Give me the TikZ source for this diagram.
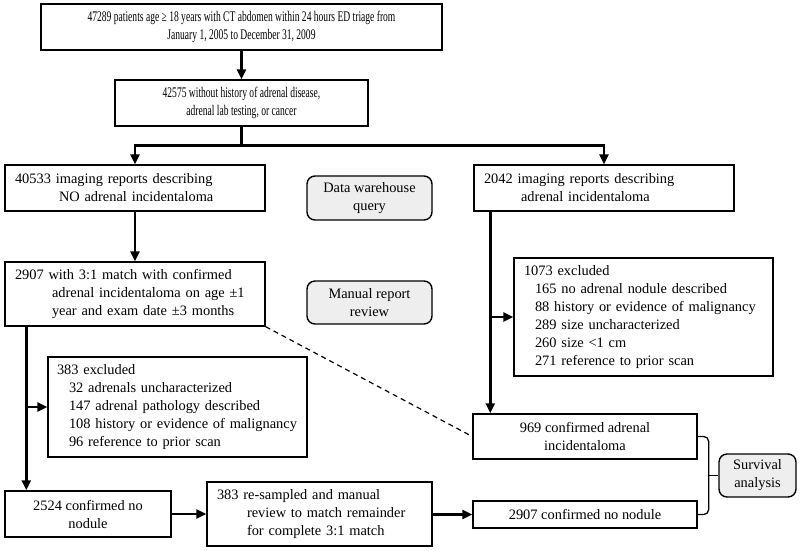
\documentclass[tikz,border=0pt]{standalone}
\usepackage{fontspec}
\setmainfont{Liberation Serif}
\newfontfamily\narrowserif[FakeStretch=0.65]{Liberation Serif}
\usetikzlibrary{arrows.meta}

\definecolor{stagegray}{RGB}{238,238,238}
\newcommand\boxfont{\fontsize{14.4}{18}\selectfont}

\tikzset{
  box/.style={draw, line width=1.4pt, font=\boxfont, align=center,
              inner xsep=10pt, inner ysep=0pt},
  lbox/.style={box, align=left},
  stage/.style={box, rounded corners=8pt, fill=stagegray, inner xsep=4pt},
  flow/.style={line width=2.6pt, -{Triangle[length=10pt,width=9pt]}},
  link/.style={line width=1.2pt, dash pattern=on 5pt off 4pt},
  brace/.style={line width=1.3pt, rounded corners=5pt}
}

\begin{document}
\begin{tikzpicture}[x=1pt, y=-1pt]
\useasboundingbox (0,0) rectangle (800,550);

% query stage
\node[box, minimum width=401pt, minimum height=46pt] (top) at (241.5,27)
  {\narrowserif\fontsize{14.7}{18}\selectfont 47289 patients age ≥ 18 years with CT abdomen within 24 hours ED triage from\\
   \narrowserif\fontsize{14.7}{18}\selectfont January 1, 2005 to December 31, 2009};
\node[box, minimum width=253pt, minimum height=46pt] (clean) at (241.5,103)
  {\narrowserif\fontsize{14.7}{18}\selectfont 42575 without history of adrenal disease,\\
   \narrowserif\fontsize{14.7}{18}\selectfont adrenal lab testing, or cancer};
\node[lbox, text width=240pt, minimum height=46pt] (noai) at (135,188)
  {40533 imaging reports describing\\ \hspace*{44pt}NO adrenal incidentaloma};
\node[lbox, text width=240pt, minimum height=46pt] (ai) at (604,188)
  {2042 imaging reports describing\\ \hspace*{37pt}adrenal incidentaloma};
\node[stage, minimum width=125pt, minimum height=44pt] (dwq) at (369.5,198)
  {Data warehouse\\ query};

% manual review stage
\node[lbox, text width=240pt, minimum height=64pt] (match) at (135,294)
  {2907 with 3:1 match with confirmed\\
   \hspace*{37pt}adrenal incidentaloma on age ±1\\
   \hspace*{37pt}year and exam date ±3 months};
\node[stage, minimum width=125pt, minimum height=43pt] (mrr) at (369.5,302.5)
  {Manual report\\ review};
\node[lbox, text width=239pt, minimum height=118pt] (aiexcl) at (643.5,317)
  {1073 excluded\\
   \hspace*{11pt}165 no adrenal nodule described\\
   \hspace*{11pt}88 history or evidence of malignancy\\
   \hspace*{11pt}289 size uncharacterized\\
   \hspace*{11pt}260 size <1 cm\\
   \hspace*{11pt}271 reference to prior scan};
\node[lbox, inner xsep=9pt, text width=241pt, minimum height=100pt] (noexcl) at (177.5,407)
  {383 excluded\\
   \hspace*{12pt}32 adrenals uncharacterized\\
   \hspace*{12pt}147 adrenal pathology described\\
   \hspace*{12pt}108 history or evidence of malignancy\\
   \hspace*{12pt}96 reference to prior scan};

% final cohorts
\node[box, minimum width=224pt, minimum height=45pt] (cai) at (585,436.5)
  {969 confirmed adrenal\\ incidentaloma};
\node[box, minimum width=166pt, minimum height=46pt] (cno) at (88,514)
  {2524 confirmed no\\ nodule};
\node[lbox, text width=205pt, minimum height=64pt] (resamp) at (319.5,514)
  {383 re-sampled and manual\\
   \hspace*{30pt}review to match remainder\\
   \hspace*{30pt}for complete 3:1 match};
\node[box, minimum width=224pt, minimum height=27pt] (cno2) at (585,514.5)
  {2907 confirmed no nodule};
\node[stage, minimum width=77pt, minimum height=43pt] (surv) at (757.5,475.5)
  {Survival\\ analysis};

% connectors
\draw[flow] (top) -- (clean);
\draw[flow] (clean.south) -- ++(0,19) -| (noai.north);
\draw[flow] (clean.south) -- ++(0,19) -| (ai.north);
\draw[flow] (noai) -- (match);
\draw[flow] ([xshift=22pt]match.south west) -- ([xshift=22pt]cno.north west);
\draw[flow] ([xshift=22pt]match.south west |- noexcl.west) -- (noexcl.west);
\coordinate (aitrunk) at ([xshift=17pt]ai.south west);
\draw[flow] (aitrunk) -- (aitrunk |- cai.north);
\draw[flow] (aitrunk |- aiexcl.west) -- (aiexcl.west);
\draw[flow] (cno) -- (resamp);
\draw[flow] (resamp.east |- cno2.west) -- (cno2.west);
\draw[link] (match.south east) -- (cai.west);
\draw[brace] (cai.east) -- ++(11,0) -- ([xshift=11pt]cno2.east) -- (cno2.east);
\draw[line width=1.3pt] ([xshift=11pt]cai.east |- surv.west) -- (surv.west);
\end{tikzpicture}
\end{document}
